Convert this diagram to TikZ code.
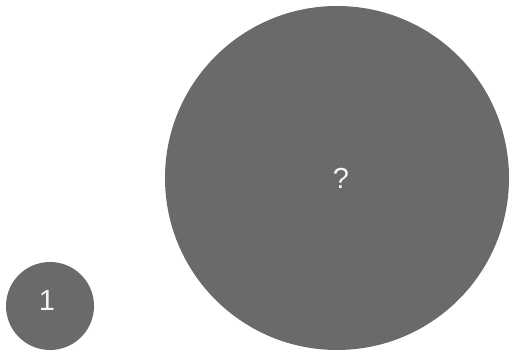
\documentclass[tikz,border=0pt]{standalone}
\usepackage{fontspec}
\setmainfont{Liberation Sans}
\begin{document}
\begin{tikzpicture}[x=1pt, y=-1pt]
    % Define colours
    \definecolor{discColour}{HTML}{6A6A6A}
    \definecolor{textColour}{HTML}{F4F4F4}

    % Styles
    \tikzset{disc/.style={circle, fill=discColour, text=textColour, inner sep=0pt, font=\fontsize{29}{29}\selectfont}}

    % Fix picture size
    \useasboundingbox (0,0) rectangle (512,352);

    % Draw small disc
    \node[disc, minimum size=88pt] (small) at (50,306) {};
    \node[text=textColour, font=\fontsize{29}{29}\selectfont] (one) at (47,301) {1};

    % Draw large disc
    \node[disc, minimum size=344pt] (large) at (337,178) {};
    \node[text=textColour, font=\fontsize{29}{29}\selectfont] (ask) at (341,178) {?};

\end{tikzpicture}
\end{document}
